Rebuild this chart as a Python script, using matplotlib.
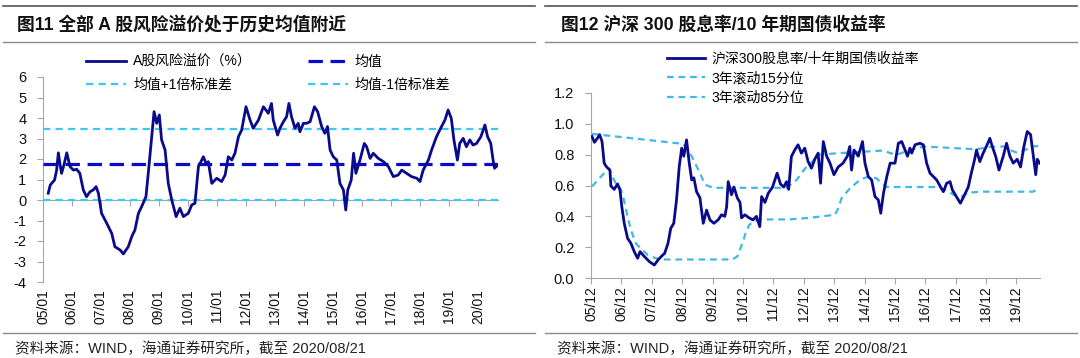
import matplotlib
matplotlib.use("Agg")
import matplotlib.pyplot as plt
from matplotlib.lines import Line2D

plt.rcParams['font.family'] = ['Liberation Sans', 'Noto Sans CJK SC', 'DejaVu Sans']
CJK = ['Noto Sans CJK SC', 'DejaVu Sans']
MIX = ['Liberation Sans', 'Noto Sans CJK SC', 'DejaVu Sans']

# ---------------- Left chart data: A-share risk premium (%) ----------------
rp_t = [2005.18, 2005.25, 2005.40, 2005.47, 2005.53, 2005.58, 2005.64, 2005.72, 2005.82, 2005.93,
        2006.05, 2006.16, 2006.27, 2006.39, 2006.50, 2006.62, 2006.74, 2006.83, 2006.91, 2007.02,
        2007.20, 2007.37, 2007.48, 2007.66, 2007.77, 2007.94, 2008.06, 2008.17, 2008.29, 2008.40,
        2008.55, 2008.63, 2008.75, 2008.83, 2008.92, 2009.01, 2009.09, 2009.21, 2009.32, 2009.44,
        2009.59, 2009.72, 2009.84, 2010.01, 2010.13, 2010.24, 2010.36, 2010.53, 2010.62, 2010.70,
        2010.82, 2010.99, 2011.16, 2011.28, 2011.39, 2011.51, 2011.62, 2011.74, 2011.85, 2012.00,
        2012.14, 2012.25, 2012.43, 2012.60, 2012.77, 2012.88, 2012.94, 2013.09, 2013.17, 2013.29,
        2013.40, 2013.48, 2013.57, 2013.69, 2013.80, 2013.86, 2013.98, 2014.09, 2014.21, 2014.36,
        2014.47, 2014.61, 2014.72, 2014.81, 2014.90, 2015.01, 2015.13, 2015.24, 2015.36, 2015.44,
        2015.51, 2015.63, 2015.71, 2015.79, 2015.93, 2016.08, 2016.16, 2016.28, 2016.39, 2016.56,
        2016.74, 2016.91, 2017.08, 2017.25, 2017.37, 2017.54, 2017.71, 2017.89, 2018.00, 2018.11,
        2018.29, 2018.40, 2018.57, 2018.68, 2018.86, 2018.97, 2019.08, 2019.17, 2019.29, 2019.37,
        2019.49, 2019.60, 2019.72, 2019.83, 2019.95, 2020.10, 2020.24, 2020.33, 2020.44, 2020.52,
        2020.57, 2020.63]
rp_v = [0.33, 0.73, 0.98, 1.46, 2.30, 1.80, 1.30, 1.70, 2.30, 1.63,
        1.46, 1.50, 1.30, 0.49, 0.16, 0.40, 0.50, 0.65, 0.33, -0.65,
        -1.14, -1.63, -2.28, -2.44, -2.63, -2.28, -1.79, -1.46, -0.65, -0.33,
        0.16, 1.30, 3.09, 4.31, 3.74, 4.15, 2.93, 2.44, 0.81, 0.00,
        -0.81, -0.40, -0.81, -0.65, -0.24, -0.16, 1.63, 2.11, 1.79, 1.87,
        0.81, 1.06, 0.90, 1.22, 2.11, 1.95, 2.28, 3.09, 3.41, 4.55,
        3.90, 3.50, 3.90, 4.55, 4.23, 4.71, 3.90, 3.17, 3.50, 3.82,
        4.06, 4.71, 4.06, 3.50, 3.74, 3.33, 3.74, 3.74, 3.82, 4.55,
        4.31, 3.58, 3.25, 3.58, 2.44, 2.11, 1.95, 0.81, 0.49, -0.49,
        0.49, 0.98, 2.28, 1.30, 1.95, 2.76, 2.60, 2.03, 2.28, 2.03,
        1.87, 1.63, 1.14, 1.22, 1.46, 1.30, 1.14, 1.06, 0.90, 1.46,
        1.95, 2.44, 3.09, 3.41, 3.90, 4.39, 3.98, 2.93, 1.95, 2.76,
        3.01, 2.60, 2.93, 2.68, 2.76, 3.09, 3.66, 3.09, 2.76, 1.95,
        1.55, 1.63]
rp_mean = 1.74
rp_plus1 = 3.46
rp_minus1 = 0.02

left_ticks = [2005, 2006, 2007, 2008, 2009, 2010, 2011, 2012, 2013, 2014, 2015, 2016, 2017, 2018, 2019, 2020]
left_labels = ['05/01', '06/01', '07/01', '08/01', '09/01', '10/01', '11/01', '12/01',
               '13/01', '14/01', '15/01', '16/01', '17/01', '18/01', '19/01', '20/01']
left_yticks = [-4, -3, -2, -1, 0, 1, 2, 3, 4, 5, 6]

# ---------------- Right chart data: dividend yield / 10y yield ----------------
dy_t = [2005.95, 2006.03, 2006.14, 2006.20, 2006.28, 2006.35, 2006.43, 2006.54, 2006.57, 2006.68,
        2006.79, 2006.87, 2006.93, 2007.01, 2007.12, 2007.23, 2007.34, 2007.45, 2007.53, 2007.67,
        2007.84, 2008.00, 2008.12, 2008.23, 2008.34, 2008.45, 2008.54, 2008.64, 2008.73, 2008.82,
        2008.90, 2008.97, 2009.06, 2009.15, 2009.23, 2009.30, 2009.39, 2009.50, 2009.61, 2009.72,
        2009.83, 2009.96, 2010.10, 2010.21, 2010.32, 2010.38, 2010.43, 2010.54, 2010.62, 2010.73,
        2010.82, 2010.87, 2010.98, 2011.12, 2011.25, 2011.36, 2011.47, 2011.53, 2011.64, 2011.75,
        2011.89, 2012.04, 2012.15, 2012.26, 2012.35, 2012.42, 2012.51, 2012.62, 2012.73, 2012.84,
        2012.95, 2013.06, 2013.17, 2013.28, 2013.39, 2013.47, 2013.56, 2013.67, 2013.78, 2013.91,
        2014.05, 2014.21, 2014.35, 2014.43, 2014.49, 2014.57, 2014.71, 2014.85, 2014.93, 2015.04,
        2015.15, 2015.26, 2015.37, 2015.45, 2015.54, 2015.65, 2015.76, 2015.92, 2016.03, 2016.14,
        2016.25, 2016.33, 2016.41, 2016.47, 2016.58, 2016.74, 2016.85, 2016.96, 2017.07, 2017.18,
        2017.29, 2017.42, 2017.51, 2017.62, 2017.73, 2017.81, 2017.94, 2018.07, 2018.18, 2018.33,
        2018.43, 2018.54, 2018.60, 2018.71, 2018.82, 2018.95, 2019.04, 2019.12, 2019.23, 2019.34,
        2019.48, 2019.59, 2019.70, 2019.81, 2019.94, 2020.05, 2020.16, 2020.27, 2020.38, 2020.47,
        2020.55, 2020.60, 2020.68]
dy_v = [0.918, 0.88, 0.91, 0.93, 0.885, 0.745, 0.72, 0.70, 0.597, 0.575,
        0.61, 0.57, 0.463, 0.355, 0.258, 0.225, 0.171, 0.128, 0.171, 0.14,
        0.106, 0.084, 0.117, 0.14, 0.16, 0.225, 0.322, 0.355, 0.506, 0.723,
        0.842, 0.79, 0.896, 0.745, 0.636, 0.65, 0.56, 0.52, 0.355, 0.44,
        0.377, 0.355, 0.377, 0.41, 0.40, 0.463, 0.625, 0.54, 0.59, 0.52,
        0.49, 0.39, 0.41, 0.39, 0.377, 0.40, 0.333, 0.528, 0.49, 0.55,
        0.59, 0.68, 0.61, 0.59, 0.625, 0.575, 0.788, 0.83, 0.864, 0.81,
        0.842, 0.755, 0.712, 0.77, 0.81, 0.615, 0.885, 0.79, 0.745, 0.67,
        0.72, 0.745, 0.79, 0.853, 0.70, 0.83, 0.79, 0.885, 0.745, 0.658,
        0.636, 0.528, 0.506, 0.42, 0.55, 0.658, 0.745, 0.745, 0.874, 0.885,
        0.83, 0.79, 0.842, 0.81, 0.864, 0.874, 0.864, 0.745, 0.68, 0.658,
        0.636, 0.59, 0.56, 0.615, 0.625, 0.57, 0.528, 0.485, 0.528, 0.59,
        0.68, 0.77, 0.83, 0.755, 0.81, 0.864, 0.906, 0.853, 0.79, 0.70,
        0.79, 0.874, 0.79, 0.745, 0.77, 0.72, 0.853, 0.95, 0.93, 0.79,
        0.67, 0.77, 0.745]

p15_t = [2005.95, 2006.14, 2006.35, 2006.51, 2006.62, 2006.73, 2006.89, 2007.00, 2007.12, 2007.23,
         2007.39, 2007.56, 2007.78, 2008.05, 2008.27, 2010.57, 2010.73, 2010.90, 2011.00, 2011.12,
         2011.28, 2011.67, 2012.43, 2013.09, 2013.94, 2014.05, 2014.16, 2014.43, 2014.76, 2015.04,
         2015.31, 2015.48, 2015.65, 2017.29, 2017.62, 2017.84, 2018.10, 2018.33, 2018.80, 2020.47,
         2020.63]
p15_v = [0.593, 0.636, 0.68, 0.71, 0.658, 0.615, 0.58, 0.506, 0.398, 0.312,
         0.225, 0.192, 0.15, 0.128, 0.12, 0.12, 0.14, 0.225, 0.29, 0.344,
         0.37, 0.38, 0.38, 0.39, 0.41, 0.452, 0.518, 0.58, 0.636, 0.658,
         0.647, 0.615, 0.59, 0.59, 0.57, 0.54, 0.528, 0.554, 0.56, 0.56,
         0.58]
p85_t = [2005.95, 2008.95, 2009.23, 2009.50, 2009.67, 2009.94, 2012.35, 2012.68, 2013.00, 2013.20,
         2013.40, 2014.10, 2014.94, 2015.54, 2015.76, 2015.98, 2016.41, 2016.85, 2018.60, 2019.04,
         2019.50, 2019.70, 2019.97, 2020.20, 2020.43, 2020.63]
p85_v = [0.935, 0.87, 0.79, 0.68, 0.605, 0.585, 0.585, 0.636, 0.72, 0.755,
         0.80, 0.81, 0.82, 0.827, 0.81, 0.80, 0.83, 0.853, 0.835, 0.85,
         0.853, 0.83, 0.81, 0.83, 0.853, 0.856]

right_ticks = [y + 11 / 12 for y in range(2005, 2020)]
right_labels = ['05/12', '06/12', '07/12', '08/12', '09/12', '10/12', '11/12', '12/12',
                '13/12', '14/12', '15/12', '16/12', '17/12', '18/12', '19/12']
right_yticks = [0.0, 0.2, 0.4, 0.6, 0.8, 1.0, 1.2]

NAVY = '#0A0A8C'
MEANBLUE = '#0A0ACF'
LIGHT = '#3CC8F5'
LIGHT2 = '#3DB9EA'
SPINE = '#A6A6A6'
TXT = '#111111'

W, H = 1080, 358
fig = plt.figure(figsize=(W / 100, H / 100), dpi=100)

def fx(px):
    return px / W

def fy(py):
    return 1 - py / H

# Decorative separator lines and titles
for (x0, x1) in [(3, 535), (545, 1077)]:
    for py, c, lw in [(6, '#555555', 1.2), (42, '#8C8C8C', 1.0), (333, '#8C8C8C', 1.0)]:
        fig.add_artist(Line2D([fx(x0), fx(x1)], [fy(py), fy(py)], color=c, lw=lw,
                              transform=fig.transFigure))

fig.text(fx(17), fy(25), '图11 全部 A 股风险溢价处于历史均值附近', fontsize=12.8,
         fontweight='bold', family=MIX, va='center', ha='left', color='#111111')
fig.text(fx(561), fy(25), '图12 沪深 300 股息率/10 年期国债收益率', fontsize=12.8,
         fontweight='bold', family=MIX, va='center', ha='left', color='#111111')
src = '资料来源：WIND，海通证券研究所，截至 2020/08/21'
fig.text(fx(15), fy(349), src, fontsize=10.5, family=MIX, va='center', ha='left', color='#222222')
fig.text(fx(557), fy(349), src, fontsize=10.5, family=MIX, va='center', ha='left', color='#222222')

# ---------------- Left axes ----------------
ax1 = fig.add_axes([fx(43), fy(282), (498 - 43) / W, (282 - 77) / H])
ax1.plot(rp_t, rp_v, color=NAVY, lw=2.0, solid_joinstyle='round', zorder=5)
ax1.axhline(rp_mean, color=MEANBLUE, lw=2.3, dashes=(4.5, 2.4), zorder=4)
ax1.axhline(rp_plus1, color=LIGHT, lw=1.6, dashes=(3.3, 2.3), zorder=3)
ax1.axhline(rp_minus1, color=LIGHT, lw=1.6, dashes=(3.3, 2.3), zorder=3)
ax1.set_xlim(2005.0, 2020.69)
ax1.set_ylim(-4, 6)
ax1.set_yticks(left_yticks)
ax1.set_yticklabels([str(v) for v in left_yticks])
for s in ['top', 'right']:
    ax1.spines[s].set_visible(False)
ax1.spines['left'].set_color(SPINE)
ax1.spines['bottom'].set_color(SPINE)
ax1.spines['bottom'].set_position(('data', 0))
ax1.set_xticks(left_ticks)
ax1.tick_params(axis='x', which='both', direction='out', length=4, color=SPINE,
                labelbottom=False)
ax1.tick_params(axis='y', direction='out', length=4, color=SPINE, labelsize=10.5,
                labelcolor=TXT, pad=8)
sec = ax1.secondary_xaxis('bottom')
sec.set_xticks(left_ticks)
sec.set_xticklabels(left_labels, rotation=90)
sec.tick_params(length=0, labelsize=10, labelcolor=TXT, pad=5)
sec.spines['bottom'].set_visible(False)

h1 = [Line2D([], [], color=NAVY, lw=2.0),
      Line2D([], [], color=LIGHT, lw=1.6, dashes=(3.3, 2.3)),
      Line2D([], [], color=MEANBLUE, lw=2.3, dashes=(4.5, 2.4)),
      Line2D([], [], color=LIGHT, lw=1.6, dashes=(3.3, 2.3))]
l1 = ['A股风险溢价（%）', '均值+1倍标准差', '均值', '均值-1倍标准差']
ax1.legend(h1, l1, ncol=2, loc='upper left', bbox_to_anchor=(fx(86), fy(55)),
           bbox_transform=fig.transFigure, frameon=False, prop={'family': MIX, 'size': 10},
           handlelength=2.9, handletextpad=0.5, columnspacing=4.0, labelspacing=0.65,
           borderaxespad=0, borderpad=0)

# ---------------- Right axes ----------------
ax2 = fig.add_axes([fx(591), fy(278), (1040 - 591) / W, (278 - 93) / H])
ax2.plot(dy_t, dy_v, color=NAVY, lw=2.0, solid_joinstyle='round', zorder=5, label='沪深300股息率/十年期国债收益率')
ax2.plot(p15_t, p15_v, color=LIGHT2, lw=1.6, dashes=(3.0, 2.2), zorder=4, label='3年滚动15分位')
ax2.plot(p85_t, p85_v, color=LIGHT2, lw=1.6, dashes=(3.0, 2.2), zorder=4, label='3年滚动85分位')
ax2.set_xlim(2005.92, 2020.69)
ax2.set_ylim(0, 1.2)
ax2.set_yticks(right_yticks)
ax2.set_yticklabels([f'{v:.1f}' for v in right_yticks])
ax2.set_xticks(right_ticks)
ax2.set_xticklabels(right_labels, rotation=90)
for s in ['top', 'right']:
    ax2.spines[s].set_visible(False)
ax2.spines['left'].set_color(SPINE)
ax2.spines['bottom'].set_color(SPINE)
ax2.tick_params(axis='x', direction='out', length=4, color=SPINE, labelsize=10,
                labelcolor=TXT, pad=2)
ax2.tick_params(axis='y', direction='out', length=4, color=SPINE, labelsize=10.5,
                labelcolor=TXT, pad=8)
ax2.legend(loc='upper left', bbox_to_anchor=(fx(667), fy(52)),
           bbox_transform=fig.transFigure, frameon=False, prop={'family': MIX, 'size': 10},
           handlelength=2.7, handletextpad=0.5, labelspacing=0.38,
           borderaxespad=0, borderpad=0)

fig.savefig('out.png', dpi=100)
